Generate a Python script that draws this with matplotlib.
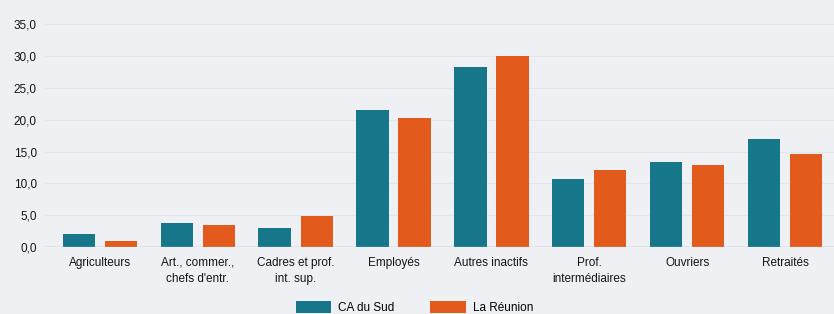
import matplotlib.pyplot as plt
import numpy as np

categories = ['Agriculteurs', 'Art., commer.,\nchefs d\'entr.', 'Cadres et prof.\nint. sup.', 'Employés',
              'Autres inactifs', 'Prof.\nintermédiaires', 'Ouvriers', 'Retraités']
ca_du_sud = [2.0, 3.8, 3.0, 21.5, 28.3, 10.7, 13.3, 17.0]
la_reunion = [0.9, 3.5, 4.9, 20.3, 30.0, 12.1, 12.9, 14.6]
yticks = [0, 5, 10, 15, 20, 25, 30, 35]

plt.rcParams['font.family'] = ['Liberation Sans', 'DejaVu Sans']
bg = '#eef0f3'

fig = plt.figure(figsize=(8.34, 3.14), dpi=100, facecolor=bg)
ax = fig.add_axes([0.054, 0.213, 0.946, 0.71], facecolor=bg)

x = np.arange(len(categories))
w = 0.33
ax.bar(x - 0.215, ca_du_sud, w, color='#17778a', label='CA du Sud', zorder=3)
ax.bar(x + 0.215, la_reunion, w, color='#e25a1c', label='La Réunion', zorder=3)

ax.set_xlim(-0.56, 7.5)
ax.set_ylim(0, 35)
ax.set_yticks(yticks)
ax.set_yticklabels([f'{v:.1f}'.replace('.', ',') for v in yticks])
ax.set_xticks(x)
ax.set_xticklabels(categories, linespacing=1.45)
ax.tick_params(length=0, labelsize=8.5, colors='#151515')
ax.tick_params(axis='x', pad=7)
ax.tick_params(axis='y', pad=6)
ax.grid(axis='y', color='#e2e5ea', linewidth=0.8, zorder=0)
for s in ax.spines.values():
    s.set_visible(False)
ax.axhline(0, color='#a9b1bd', linewidth=1, zorder=4)

fig.legend(loc='center', bbox_to_anchor=(0.497, 0.02), ncol=2, frameon=False, fontsize=8.5,
           handlelength=3.0, handleheight=1.1, columnspacing=3.0, handletextpad=0.6)

fig.savefig('out.png', dpi=100, facecolor=bg)
